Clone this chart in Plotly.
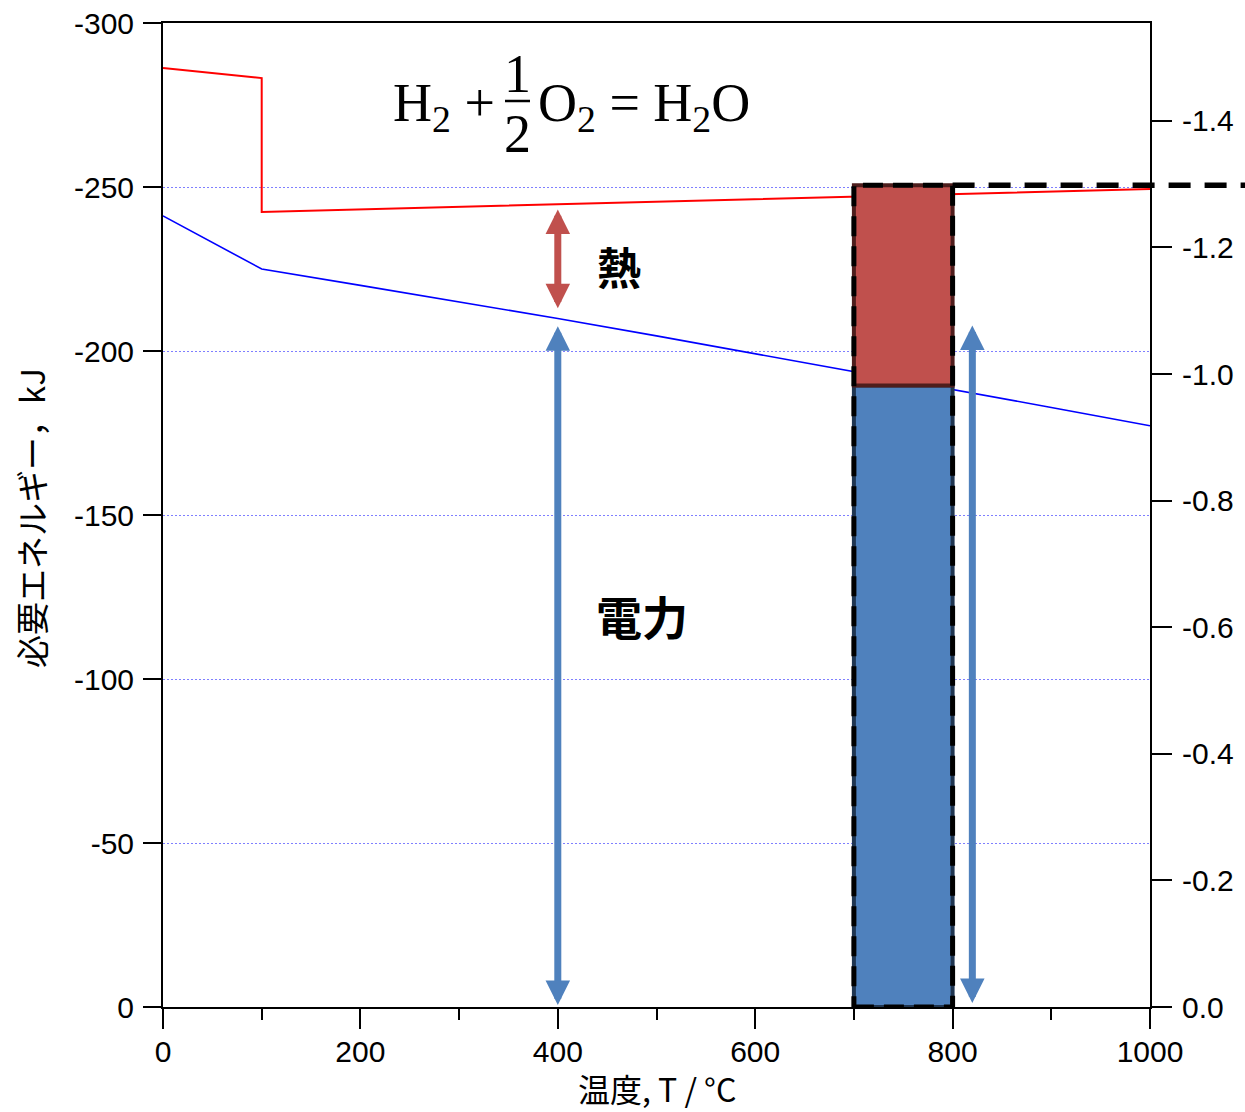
import plotly.graph_objects as go

# ---------------- data ----------------
dh_T = [0, 100, 100, 1000]
dh_kJ = [-286.3, -283.2, -242.4, -249.4]          # enthalpy (red)

dg_T = [0, 100, 200, 300, 400, 500, 600, 700, 800, 900, 1000]
dg_kJ = [-241.2, -225.0, -220.0, -215.0, -209.9, -204.6, -199.2, -193.8, -188.4, -182.8, -177.2]  # Gibbs (blue)

bar_T = 750
bar_width = 100
bar_elec = -189.5          # electric part
bar_total = -250.5         # total (heat + electric)

heat_arrow = dict(x=400, y0=-243.6, y1=-213.0)
elec_arrows = [dict(x=400, y0=-208.0, y1=-0.6), dict(x=820, y0=-208.2, y1=-1.2)]

x_ticks = [0, 200, 400, 600, 800, 1000]
y_ticks = [0, -50, -100, -150, -200, -250, -300]
y_labels = ["0", "-50", "-100", "-150", "-200", "-250", "-300"]
y2_ticks = [0.0, -0.2, -0.4, -0.6, -0.8, -1.0, -1.2, -1.4]
y2_labels = ["0.0", "-0.2", "-0.4", "-0.6", "-0.8", "-1.0", "-1.2", "-1.4"]
FARADAY2 = 2 * 96.485      # kJ per V for 2 electrons

# ---------------- geometry ----------------
W, H = 1245, 1112
L, R, T, B = 163, 1150, 23, 1007


def px(x):
    return (x - L) / (R - L)


def py(y):
    return (B - y) / (B - T)


RED = "#C0504D"
BLUE = "#4F81BD"
TICKFONT = dict(family="Liberation Sans, Arial, sans-serif", size=30, color="black")
JP = "Noto Sans CJK JP, sans-serif"
SERIF = "Liberation Serif, Times New Roman, serif"

fig = go.Figure()

# lines (left axis, kJ)
fig.add_trace(go.Scatter(x=dh_T, y=dh_kJ, mode="lines", line=dict(color="red", width=2),
                         showlegend=False))
fig.add_trace(go.Scatter(x=dg_T, y=dg_kJ, mode="lines", line=dict(color="blue", width=1.6),
                         showlegend=False))

# bars on the right (volt) axis so they are drawn above the lines
fig.add_trace(go.Bar(x=[bar_T], y=[bar_elec / FARADAY2], base=[0], width=[bar_width],
                     yaxis="y2",
                     marker=dict(color=BLUE, line=dict(color="#1F3550", width=4)),
                     showlegend=False, hoverinfo="skip"))
fig.add_trace(go.Bar(x=[bar_T], y=[(bar_total - bar_elec) / FARADAY2], base=[bar_elec / FARADAY2],
                     width=[bar_width], yaxis="y2",
                     marker=dict(color=RED, line=dict(color="#4E1D1C", width=4)),
                     showlegend=False, hoverinfo="skip"))

# dashed outline + dashed extension
fig.add_shape(type="rect", xref="x", yref="y", x0=bar_T - bar_width / 2, x1=bar_T + bar_width / 2,
              y0=0, y1=bar_total, line=dict(color="black", width=5, dash="20px,10px"),
              fillcolor="rgba(0,0,0,0)", layer="above")
fig.add_shape(type="line", xref="paper", yref="y", x0=(bar_T + bar_width / 2) / 1000,
              x1=px(W + 10), y0=bar_total, y1=bar_total,
              line=dict(color="black", width=5.5, dash="22px,14px"), layer="above")

# arrows
def arrow(x, y0, y1, color):
    fig.add_annotation(x=x, y=y1, ax=x, ay=y0, xref="x", yref="y", axref="x", ayref="y",
                       text="", showarrow=True, arrowhead=2, startarrowhead=2,
                       arrowside="end+start", arrowwidth=7, arrowsize=0.7,
                       startarrowsize=0.7, arrowcolor=color)

arrow(heat_arrow["x"], heat_arrow["y0"], heat_arrow["y1"], RED)
for a in elec_arrows:
    arrow(a["x"], a["y0"], a["y1"], BLUE)


def label(xp, yp, text, font, xanchor="center", angle=0):
    fig.add_annotation(x=px(xp), y=py(yp), xref="paper", yref="paper", text=text,
                       xanchor=xanchor, yanchor="middle", textangle=angle,
                       showarrow=False, font=font)


# labels
label(619, 266, "<b>熱</b>", dict(family=JP, size=44, color="black"))
label(642, 615, "<b>電力</b>", dict(family=JP, size=46, color="black"))

# equation
EQ = dict(family=SERIF, size=54, color="black")
label(391, 106, "H<sub>2</sub> + ", EQ, xanchor="left")
label(517, 74, "1", EQ)
label(517, 134, "2", EQ)
label(536, 106, "O<sub>2</sub> = H<sub>2</sub>O", EQ, xanchor="left")
fig.add_shape(type="line", xref="paper", yref="paper", x0=px(505), x1=px(530),
              y0=py(101), y1=py(101), line=dict(color="black", width=2.5))

# axis titles
label(31, 518, "必要エネルギー，kJ", dict(family=JP, size=33, color="black"), angle=-90)
label(657, 1088, "温度, T / °C", dict(family=JP, size=32, color="black"))

fig.update_layout(
    width=W, height=H,
    margin=dict(l=L, r=W - R, t=T, b=H - B, autoexpand=False),
    plot_bgcolor="white", paper_bgcolor="white",
    barmode="overlay",
    xaxis=dict(range=[0, 1000], tickvals=x_ticks, ticks="outside", ticklen=20, tickwidth=1.5,
               tickcolor="black", showline=True, linecolor="black", linewidth=2, mirror=True,
               showgrid=False, zeroline=False, tickfont=TICKFONT, ticklabelstandoff=-3,
               minor=dict(dtick=100, ticks="outside", ticklen=11, tickwidth=1.5, tickcolor="black",
                          showgrid=False)),
    yaxis=dict(range=[0, -300], tickvals=y_ticks, ticktext=y_labels, ticks="outside", ticklen=18,
               tickwidth=2, tickcolor="black", showline=True, linecolor="black", linewidth=2,
               showgrid=True, gridcolor="#7f7fff", griddash="2px,2px", gridwidth=1,
               zeroline=False, tickfont=TICKFONT, ticklabelstandoff=3),
    yaxis2=dict(range=[0, -300 / FARADAY2], overlaying="y", side="right", tickvals=y2_ticks,
                ticktext=y2_labels, ticks="outside", ticklen=20, tickwidth=1.5, tickcolor="black",
                showline=True, linecolor="black", linewidth=2, showgrid=False, zeroline=False,
                tickfont=TICKFONT, ticklabelstandoff=4),
)

fig.write_html("out.html", config={"displayModeBar": False},
               post_script="document.body.style.margin='0';")
